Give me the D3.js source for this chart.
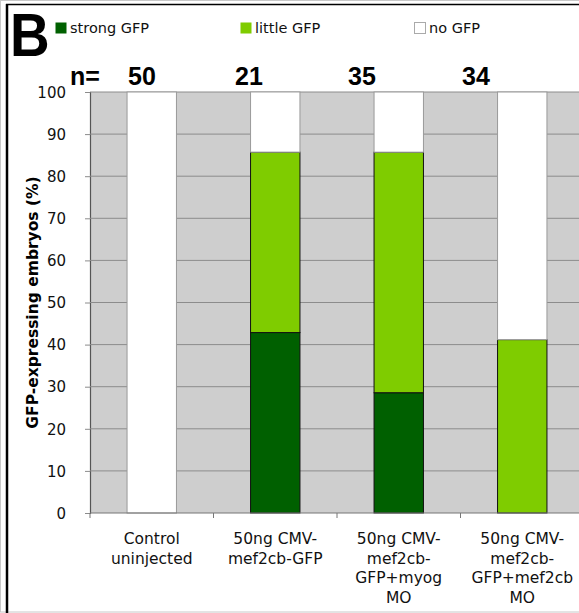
<!DOCTYPE html>
<html>
<head>
<meta charset="utf-8">
<script src="https://cdn.jsdelivr.net/npm/d3@7/dist/d3.min.js"></script>
<style>
  html, body { margin: 0; padding: 0; background: #fff; }
  svg { display: block; }
</style>
</head>
<body>
<svg id="chart" width="579" height="613"></svg>
<script>
// Embryo groups and the percentage of embryos in each GFP class
const categories = ["Control uninjected", "50ng CMV-mef2cb-GFP", "50ng CMV-mef2cb-GFP+myog MO", "50ng CMV-mef2cb-GFP+mef2cb MO"];
const categoryLines = [
  ["Control", "uninjected"],
  ["50ng CMV-", "mef2cb-GFP"],
  ["50ng CMV-", "mef2cb-", "GFP+myog", "MO"],
  ["50ng CMV-", "mef2cb-", "GFP+mef2cb", "MO"]
];
const strongGFP = [0, 42.86, 28.57, 0];
const littleGFP = [0, 42.86, 57.14, 41.18];
const noGFP = [100, 14.29, 14.29, 58.82];
const nCounts = [50, 21, 35, 34];
const yTickValues = [0, 10, 20, 30, 40, 50, 60, 70, 80, 90, 100];
const seriesNames = ["strong GFP", "little GFP", "no GFP"];
const seriesColors = ["#006000", "#7fcc00", "#ffffff"];

const svg = d3.select("#chart");
const W = 579, H = 613;
const plot = { left: 90, top: 92, bottom: 513, right: 584 };

// outer frame
svg.append("rect").attr("x", 0.5).attr("y", 0.5).attr("width", W + 10).attr("height", H - 1.5)
  .attr("fill", "none").attr("stroke", "#c8c8c8");
svg.append("line").attr("x1", 7).attr("x2", 7).attr("y1", 4).attr("y2", H)
  .attr("stroke", "#000").attr("stroke-width", 2.5);
svg.append("line").attr("x1", 6).attr("x2", W).attr("y1", 4.5).attr("y2", 4.5)
  .attr("stroke", "#000").attr("stroke-width", 1.5);

const x = d3.scaleBand().domain(categories).range([plot.left, plot.right])
  .paddingInner(0.6).paddingOuter(0.3);
const y = d3.scaleLinear().domain([0, 100]).range([plot.bottom, plot.top]);

// plot background
svg.append("rect").attr("x", plot.left).attr("y", plot.top)
  .attr("width", plot.right - plot.left).attr("height", plot.bottom - plot.top)
  .attr("fill", "#cecece");

// horizontal grid lines + y axis
const yAxis = d3.axisLeft(y).tickValues(yTickValues).tickSize(5).tickPadding(0).tickFormat(d3.format("d"));
const gy = svg.append("g").attr("transform", `translate(${plot.left},0)`).call(yAxis);
gy.select(".domain").attr("stroke", "#555").attr("stroke-width", 1.2);
gy.selectAll(".tick line").attr("stroke", "#8c8c8c");
gy.selectAll(".tick text").attr("x", -24).attr("dy", "0.35em")
  .style("font-family", "'DejaVu Sans', Verdana, sans-serif").style("font-size", "15px").attr("fill", "#111");
svg.append("g").selectAll("line").data(yTickValues.filter(d => d > 0)).join("line")
  .attr("x1", plot.left).attr("x2", plot.right)
  .attr("y1", d => y(d)).attr("y2", d => y(d))
  .attr("stroke", "#8c8c8c").attr("stroke-width", 1);

// stacked bars
const rows = categories.map((c, i) => ({ cat: c, "strong GFP": strongGFP[i], "little GFP": littleGFP[i], "no GFP": noGFP[i] }));
const stack = d3.stack().keys(seriesNames)(rows);
const layers = svg.append("g").selectAll("g").data(stack).join("g")
  .attr("fill", (d, i) => seriesColors[i])
  .attr("stroke", (d, i) => i === 2 ? "#9a9a9a" : "#111")
  .attr("stroke-width", 1);
layers.selectAll("rect").data(d => d.filter(s => s[1] - s[0] > 0)).join("rect")
  .attr("x", d => x(d.data.cat))
  .attr("width", x.bandwidth())
  .attr("y", d => y(d[1]))
  .attr("height", d => y(d[0]) - y(d[1]));

// x axis with ticks between categories
const boundaries = categories.map(c => x(c) - x.step() * x.paddingOuter()).concat([plot.right]);
svg.append("line").attr("x1", plot.left).attr("x2", W).attr("y1", plot.bottom).attr("y2", plot.bottom)
  .attr("stroke", "#777").attr("stroke-width", 1.2);
svg.append("g").selectAll("line").data(boundaries).join("line")
  .attr("x1", d => d).attr("x2", d => d).attr("y1", plot.bottom).attr("y2", plot.bottom + 5)
  .attr("stroke", "#777");

// category labels
const lab = svg.append("g").style("font-family", "'DejaVu Sans', Verdana, sans-serif")
  .style("font-size", "15.5px").attr("fill", "#111").attr("text-anchor", "middle");
categories.forEach((c, i) => {
  categoryLines[i].forEach((line, j) => {
    lab.append("text").attr("x", x(c) + x.bandwidth() / 2).attr("y", 544 + j * 19.7).text(line);
  });
});

// y axis title
svg.append("text").attr("transform", `translate(37.5,${(plot.top + plot.bottom) / 2}) rotate(-90)`)
  .attr("text-anchor", "middle")
  .style("font-family", "'DejaVu Sans', Verdana, sans-serif").style("font-size", "15.5px").style("font-weight", "bold")
  .attr("fill", "#000").text("GFP-expressing embryos (%)");

// panel letter
svg.append("text").attr("transform", "translate(10,56) scale(0.9,1)")
  .style("font-family", "'Liberation Sans', Arial, sans-serif").style("font-size", "61px").style("font-weight", "bold")
  .attr("fill", "#000").text("B");

// legend
const legendX = [55, 240, 414];
const legend = svg.append("g");
seriesNames.forEach((name, i) => {
  legend.append("rect").attr("x", legendX[i] + 0.5).attr("y", 22.5).attr("width", 11).attr("height", 11)
    .attr("fill", seriesColors[i]).attr("stroke", i === 2 ? "#aaa" : "none");
  legend.append("text").attr("x", legendX[i] + 15).attr("y", 33)
    .style("font-family", "'DejaVu Sans', Verdana, sans-serif").style("font-size", "14.5px")
    .attr("fill", "#111").text(name);
});

// sample sizes
const nLabelX = [142, 249, 362, 476];
const nText = svg.append("g").style("font-family", "'Liberation Sans', Arial, sans-serif")
  .style("font-size", "25px").style("font-weight", "bold").attr("fill", "#000");
nText.append("text").attr("x", 70).attr("y", 85).text("n=");
nCounts.forEach((n, i) => {
  nText.append("text").attr("x", nLabelX[i]).attr("y", 85).attr("text-anchor", "middle").text(n);
});
</script>
</body>
</html>
